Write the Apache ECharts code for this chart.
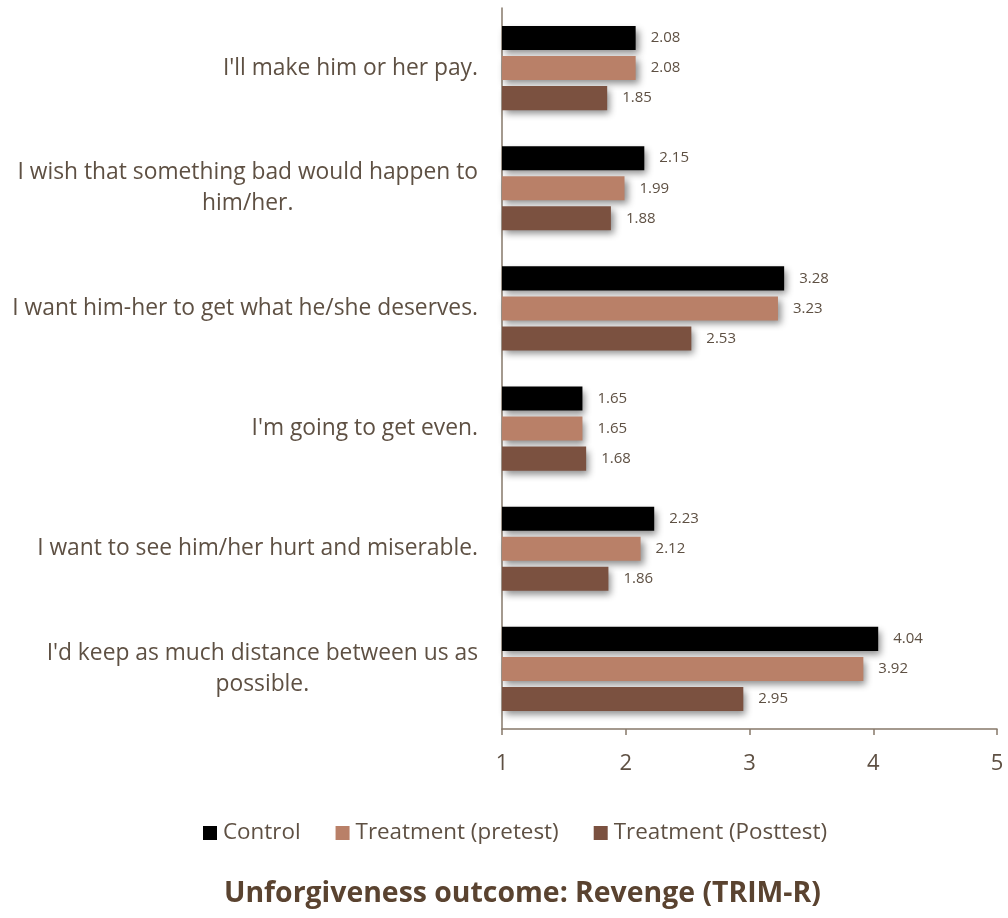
<!DOCTYPE html>
<html>
<head>
<meta charset="utf-8">
<script src="https://cdn.jsdelivr.net/npm/echarts@6/dist/echarts.min.js"></script>
<style>
  html, body { margin: 0; padding: 0; background: #ffffff; }
  #chart { width: 1008px; height: 918px; }
</style>
</head>
<body>
<div id="chart"></div>
<script>
// TRIM-R revenge items, mean scores per group
const categories = [
  "I'll make him or her pay.",
  "I wish that something bad would happen to\nhim/her.",
  "I want him-her to get what he/she deserves.",
  "I'm going to get even.",
  "I want to see him/her hurt and miserable.",
  "I'd keep as much distance between us as\npossible."
];
const seriesNames = ["Control", "Treatment (pretest)", "Treatment (Posttest)"];
const control = [2.08, 2.15, 3.28, 1.65, 2.23, 4.04];
const pretest = [2.08, 1.99, 3.23, 1.65, 2.12, 3.92];
const posttest = [1.85, 1.88, 2.53, 1.68, 1.86, 2.95];
const xTicks = [1, 2, 3, 4, 5];

const colors = ["#000000", "#b98068", "#7b5140"];
const textColor = "#5e5043";
const axisColor = "#86786a";
const font = "'Open Sans', sans-serif";

const chart = echarts.init(document.getElementById('chart'), null, { renderer: 'canvas' });

function barSeries(name, data, color) {
  return {
    name: name,
    type: 'bar',
    data: data,
    barGap: '25%',
    barCategoryGap: '30%',
    itemStyle: {
      color: color,
      shadowColor: 'rgba(0,0,0,0.45)',
      shadowBlur: 7,
      shadowOffsetX: 3,
      shadowOffsetY: 4
    },
    label: {
      show: true,
      position: 'right',
      distance: 15,
      color: textColor,
      fontFamily: font,
      fontSize: 15,
      formatter: p => p.value.toFixed(2)
    }
  };
}

// Category labels: block is right-aligned to the axis, wrapped lines centred within it
const catStyle = { fontFamily: font, fontSize: 22.8, color: textColor, lineHeight: 31, align: 'center' };

chart.setOption({
  animation: false,
  backgroundColor: '#ffffff',
  textStyle: { fontFamily: font },
  color: colors,
  title: {
    text: 'Unforgiveness outcome: Revenge (TRIM-R)',
    left: 219,
    top: 875,
    textStyle: { fontFamily: font, fontSize: 28.4, fontWeight: 'bold', color: '#5a4330' }
  },
  legend: {
    data: seriesNames,
    left: 203,
    top: 822,
    padding: 0,
    itemWidth: 14,
    itemHeight: 14,
    itemGap: 35,
    icon: 'rect',
    textStyle: { fontFamily: font, fontSize: 22.4, color: textColor, padding: [0, 0, 0, 1] }
  },
  grid: { left: 502, right: 11, top: 8, bottom: 189, containLabel: false },
  xAxis: {
    type: 'value',
    min: xTicks[0],
    max: xTicks[xTicks.length - 1],
    interval: 1,
    splitLine: { show: false },
    axisLine: { show: true, lineStyle: { color: axisColor, width: 1.5 } },
    axisTick: { show: true, length: 6, lineStyle: { color: axisColor, width: 1.5 } },
    axisLabel: { color: textColor, fontFamily: font, fontSize: 22, margin: 24 }
  },
  yAxis: {
    type: 'category',
    data: categories,
    inverse: true,
    axisLine: { show: true, lineStyle: { color: axisColor, width: 1.5 } },
    axisTick: { show: false },
    axisLabel: {
      color: textColor,
      fontFamily: font,
      fontSize: 22.8,
      margin: 24,
      align: 'right',
      lineHeight: 31,
      formatter: v => v.split('\n').map(line => '{c|' + line + '}').join('\n'),
      rich: { c: catStyle }
    }
  },
  series: [
    barSeries(seriesNames[0], control, colors[0]),
    barSeries(seriesNames[1], pretest, colors[1]),
    barSeries(seriesNames[2], posttest, colors[2])
  ]
});
</script>
</body>
</html>
